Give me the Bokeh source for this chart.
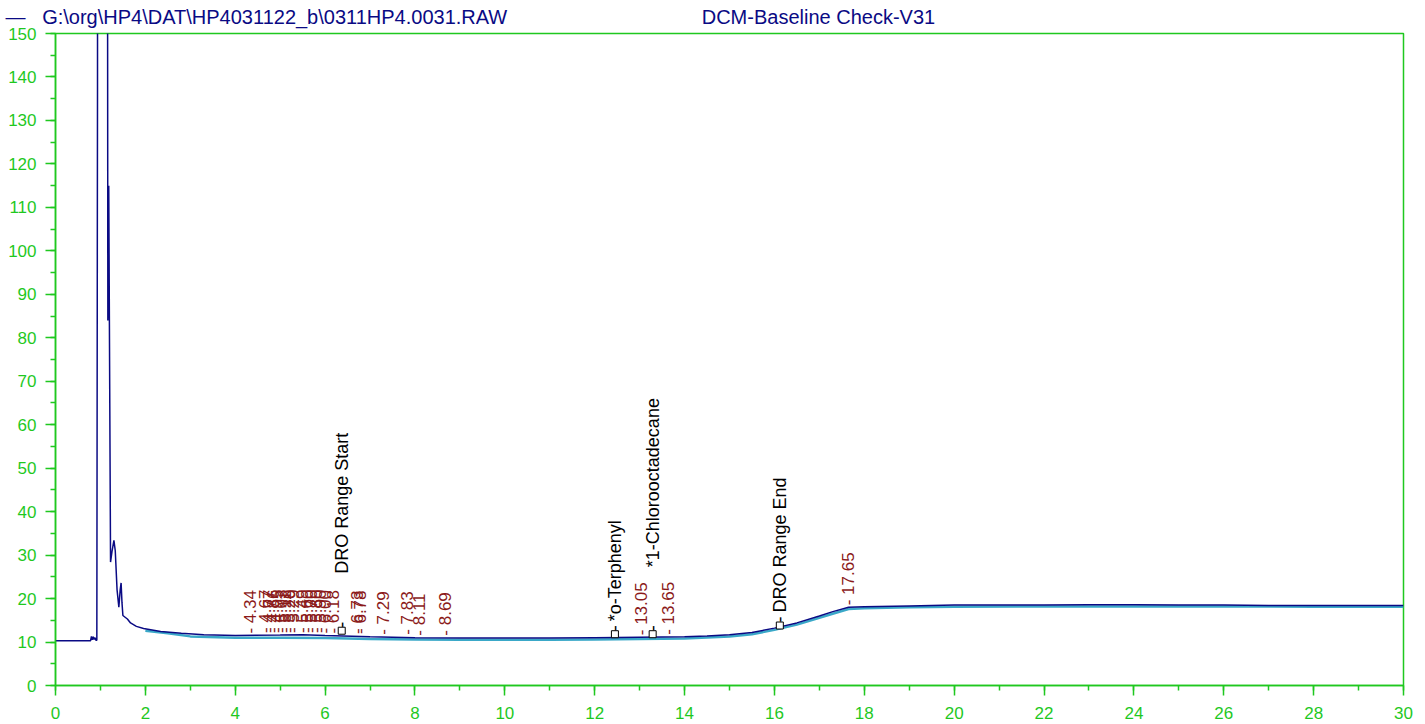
import math
from bokeh.plotting import figure
from bokeh.models import SingleIntervalTicker, ColumnDataSource, Range1d
from bokeh.core.properties import value
from bokeh.embed import file_html
from bokeh.resources import INLINE

# ---- data ----
file_name = "G:\\org\\HP4\\DAT\\HP4031122_b\\0311HP4.0031.RAW"
method_name = "DCM-Baseline Check-V31"

rt = [0.0, 0.5, 0.78, 0.80, 0.82, 0.84, 0.86, 0.88, 0.90, 0.92, 0.935, 0.94,
      1.14, 1.165, 1.185, 1.225, 1.26, 1.30, 1.33, 1.37, 1.41, 1.44, 1.46, 1.48,
      1.50, 1.60, 1.67, 1.80, 1.96, 2.34, 2.80, 3.30, 4.00, 5.00, 5.50, 6.00,
      7.00, 8.00, 9.00, 10.0, 11.0, 12.0, 13.0, 14.0, 14.5, 15.0, 15.5, 16.0,
      16.5, 17.0, 17.3, 17.65, 18.0, 19.0, 20.0, 21.0, 22.0, 23.0, 24.0, 25.0,
      26.0, 27.0, 28.0, 29.0, 30.0]
signal = [10.3, 10.3, 10.3, 11.3, 10.5, 11.2, 10.6, 11.0, 10.4, 10.4, 137.5, 400,
          400, 84, 115, 28.4, 31.0, 33.4, 31.0, 22.0, 18.0, 22.0, 23.6, 19.0,
          16.1, 15.3, 14.4, 13.6, 13.1, 12.4, 12.0, 11.7, 11.5, 11.6, 11.7, 11.5,
          11.2, 11.0, 10.9, 10.9, 10.9, 11.0, 11.1, 11.2, 11.4, 11.7, 12.2, 13.2,
          14.4, 16.0, 17.0, 18.0, 18.1, 18.3, 18.5, 18.5, 18.5, 18.6, 18.6, 18.5,
          18.5, 18.4, 18.4, 18.4, 18.4]

rt2 = [2.0, 2.5, 3.0, 4.0, 5.0, 6.0, 7.0, 8.0, 9.0, 10.0, 11.0, 12.0, 13.0, 14.0,
       15.0, 15.5, 16.0, 16.5, 17.0, 17.65, 18.0, 19.0, 20.0, 22.0, 24.0, 26.0, 28.0, 30.0]
signal2 = [12.6, 12.0, 11.3, 11.0, 11.0, 10.9, 10.7, 10.6, 10.5, 10.5, 10.5, 10.6, 10.7, 10.8,
           11.3, 11.8, 12.8, 14.0, 15.6, 17.6, 17.8, 18.0, 18.1, 18.2, 18.2, 18.2, 18.1, 18.1]

peak_rt = [4.34, 4.67, 4.77, 4.86, 4.95, 5.03, 5.11, 5.20, 5.29, 5.49, 5.60, 5.70,
           5.80, 5.90, 6.00, 6.18, 6.73, 6.78, 7.29, 7.83, 8.11, 8.69, 13.05, 13.65, 17.65]
peak_h = [11.5, 11.6, 11.6, 11.6, 11.6, 11.6, 11.6, 11.6, 11.6, 11.6, 11.6, 11.6,
          11.6, 11.6, 11.5, 11.5, 11.4, 11.4, 11.2, 11.2, 11.0, 11.0, 11.1, 11.2, 18.0]

name_rt = [6.37, 12.45, 13.29, 16.12]
name_h = [12.6, 11.8, 11.8, 13.8]
names = ["DRO Range Start", "*o-Terphenyl", "*1-Chlorooctadecane", "DRO Range End"]

y_ticks_step = 10
x_ticks_step = 2

# ---- style ----
GREEN = "#1FC81F"
NAVY = "#0A0A84"
CYAN = "#3AA8C8"
RED = "#8B1A1A"
FONT = "Liberation Sans"
name_offset_px = [-57, -13, -67, -13]
NBSP = "\u00a0"

p = figure(frame_width=1348, frame_height=652, output_backend="svg",
           toolbar_location=None, x_range=Range1d(0, 30), y_range=Range1d(0, 150),
           min_border_left=55, min_border_top=33, min_border_right=12, min_border_bottom=0)
p.background_fill_color = "white"
p.border_fill_color = "white"
p.outline_line_color = GREEN
p.outline_line_width = 1.5
p.xgrid.visible = False
p.ygrid.visible = False

# header line: legend dash + file name, then the method name
p.title.text = "\u2014" + NBSP * 3 + file_name + NBSP * 35 + method_name
p.title.align = "left"
p.title.offset = -50
p.title.text_font = FONT
p.title.text_font_size = "20px"
p.title.text_font_style = "normal"
p.title.text_color = NAVY
p.title.vertical_align = "top"
p.title.standoff = 8

p.xaxis.ticker = SingleIntervalTicker(interval=x_ticks_step, num_minor_ticks=2)
p.yaxis.ticker = SingleIntervalTicker(interval=y_ticks_step, num_minor_ticks=2)
for ax in (p.xaxis, p.yaxis):
    ax.axis_line_color = GREEN
    ax.axis_line_width = 1.5
    ax.major_tick_line_color = GREEN
    ax.minor_tick_line_color = GREEN
    ax.major_tick_line_width = 1.5
    ax.minor_tick_line_width = 1.5
    ax.major_tick_in = 0
    ax.major_tick_out = 10
    ax.minor_tick_in = 0
    ax.minor_tick_out = 5
    ax.major_label_text_color = GREEN
    ax.major_label_text_font = FONT
    ax.major_label_text_font_size = "17px"
p.xaxis.major_label_standoff = 11
p.yaxis.major_label_standoff = 9

# traces
p.line(rt2, signal2, line_color=CYAN, line_width=2.5)
p.line(rt, signal, line_color=NAVY, line_width=1.5)

# retention time labels
src = ColumnDataSource(dict(x=peak_rt, y=peak_h, t=["- %.2f" % v for v in peak_rt]))
p.text(x="x", y="y", text="t", source=src, angle=math.pi / 2, text_align="left",
       text_baseline="middle", y_offset=-2, text_color=RED,
       text_font=value(FONT), text_font_size="17px")

# named compounds
p.scatter(name_rt, name_h, marker="square", size=7, fill_color="white",
          line_color="black", line_width=1)
p.text(x=name_rt, y=name_h, text=["-"] * len(names), angle=math.pi / 2,
       text_align="left", text_baseline="middle", y_offset=-3, text_color="black",
       text_font=value(FONT), text_font_size="18px")
src2 = ColumnDataSource(dict(x=name_rt, y=name_h, t=names, off=name_offset_px))
p.text(x="x", y="y", text="t", source=src2, angle=math.pi / 2, text_align="left",
       text_baseline="middle", y_offset="off", text_color="black",
       text_font=value(FONT), text_font_size="18px")

open("out.html", "w").write(file_html(p, INLINE))
